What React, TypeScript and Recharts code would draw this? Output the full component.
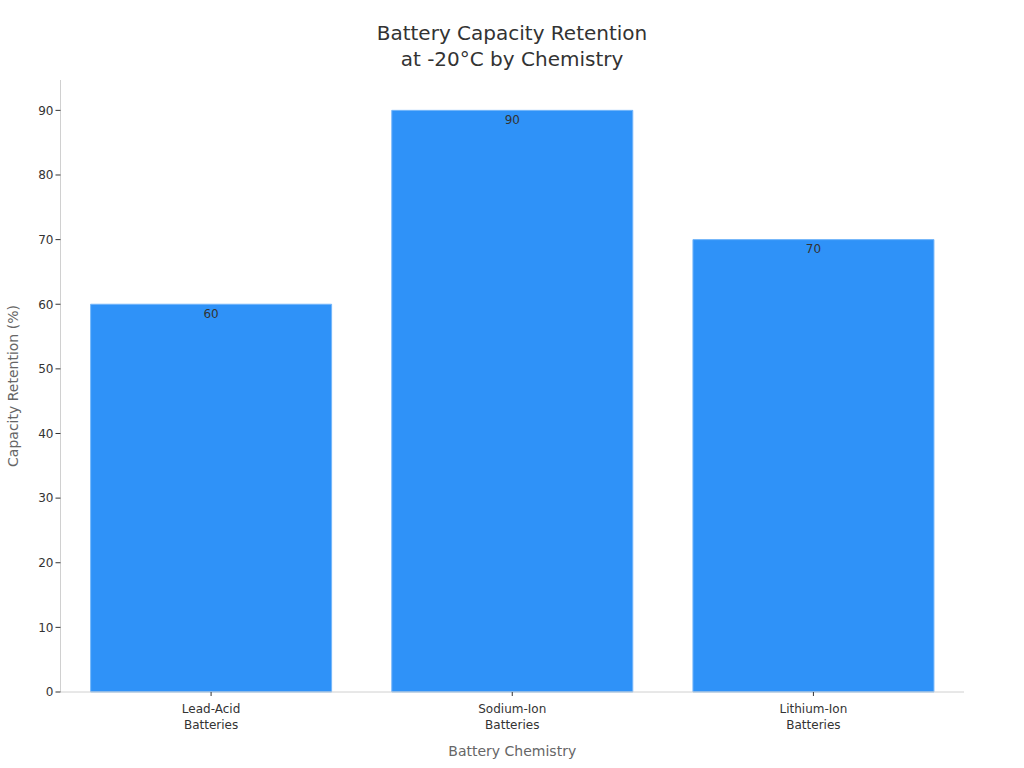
import React from 'react'
import { Bar, BarChart, LabelList, XAxis, YAxis } from 'recharts'

const categories = ['Lead-Acid Batteries', 'Sodium-Ion Batteries', 'Lithium-Ion Batteries']
const retention = [60, 90, 70]
const yTicks = [0, 10, 20, 30, 40, 50, 60, 70, 80, 90]

const data = categories.map((name, i) => ({ name, value: retention[i] }))

const FONT = '"DejaVu Sans", sans-serif'

const CategoryTick = (props: any) => {
  const { x, y, payload } = props
  const words = String(payload.value).split(' ')
  return (
    <text x={x} y={y + 15} textAnchor='middle' fill='#333' fontSize={12} fontFamily={FONT}>
      {words.map((w: string, i: number) => (
        <tspan key={i} x={x} dy={i === 0 ? 0 : 16}>
          {w}
        </tspan>
      ))}
    </text>
  )
}

const YLabel = (props: any) => {
  const vb = props.viewBox
  const cy = vb.y + vb.height / 2
  return (
    <text
      x={13}
      y={cy}
      transform={`rotate(-90, 13, ${cy})`}
      textAnchor='middle'
      dominantBaseline='central'
      fill='#666'
      fontSize={14}
      fontFamily={FONT}
    >
      Capacity Retention (%)
    </text>
  )
}

export default function App() {
  return (
    <div style={{ position: 'absolute', left: 0, top: 0, width: 1024, height: 768, background: '#fff' }}>
      <div
        style={{
          position: 'absolute',
          left: 0,
          top: 20,
          width: 1024,
          textAlign: 'center',
          fontFamily: FONT,
          fontSize: 20,
          lineHeight: '26px',
          color: '#333',
        }}
      >
        Battery Capacity Retention
        <br />
        at -20°C by Chemistry
      </div>
      <BarChart
        width={1024}
        height={768}
        data={data}
        margin={{ top: 80, right: 60, left: 0.5, bottom: 6 }}
        barCategoryGap='10%'
      >
        <XAxis
          dataKey='name'
          height={70}
          axisLine={{ stroke: '#d0d0d0' }}
          tickLine={{ stroke: '#333' }}
          tickSize={4}
          tick={<CategoryTick />}
          interval={0}
          label={{
            value: 'Battery Chemistry',
            position: 'insideBottom',
            offset: 6,
            fill: '#666',
            fontSize: 14,
            fontFamily: FONT,
          }}
        />
        <YAxis
          width={60}
          domain={[0, 94.7]}
          ticks={yTicks}
          axisLine={{ stroke: '#d0d0d0' }}
          tickLine={{ stroke: '#333' }}
          tickSize={5}
          tick={{ fill: '#333', fontSize: 12, fontFamily: FONT }}
          label={<YLabel />}
        />
        <Bar dataKey='value' fill='#2f92f8' stroke='#74b6fa' strokeWidth={1} isAnimationActive={false}>
          <LabelList
            dataKey='value'
            position='insideTop'
            offset={5}
            fill='#333'
            fontSize={12}
            fontFamily={FONT}
          />
        </Bar>
      </BarChart>
    </div>
  )
}
